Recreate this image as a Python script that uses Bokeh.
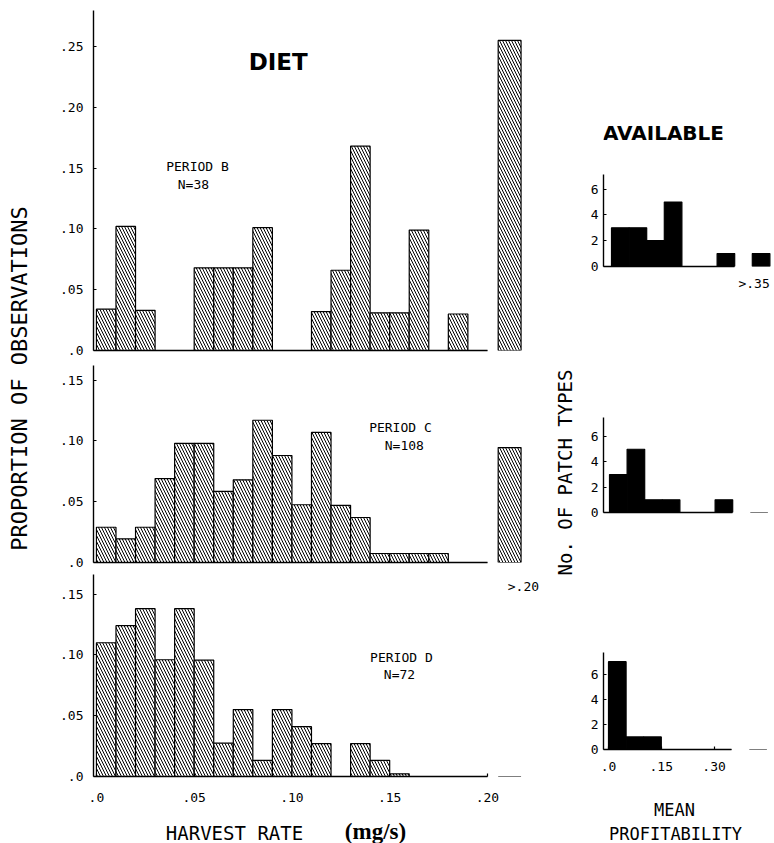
import math
from bokeh.plotting import figure
from bokeh.models import Label, FixedTicker, Range1d
from bokeh.layouts import row, column
from bokeh.embed import file_html
from bokeh.resources import INLINE

# ---------------- data ----------------
# harvest-rate bins (left edges, width 0.01); the ">.20" bin is drawn separately
diet_bin_left = [0.00, 0.01, 0.02, 0.03, 0.04, 0.05, 0.06, 0.07, 0.08, 0.09,
                 0.10, 0.11, 0.12, 0.13, 0.14, 0.15, 0.16, 0.17, 0.18, 0.19]
diet_period_B = [0.034, 0.102, 0.033, 0.0, 0.0, 0.068, 0.068, 0.068, 0.101, 0.0,
                 0.0, 0.032, 0.066, 0.168, 0.031, 0.031, 0.099, 0.0, 0.030, 0.0]
diet_period_B_over = 0.255
diet_period_C = [0.029, 0.0195, 0.029, 0.069, 0.098, 0.098, 0.0585, 0.068, 0.117, 0.088,
                 0.0475, 0.107, 0.047, 0.037, 0.0074, 0.0074, 0.0074, 0.0074, 0.0, 0.0]
diet_period_C_over = 0.0945
diet_period_D = [0.110, 0.124, 0.138, 0.096, 0.138, 0.0957, 0.0274, 0.055, 0.0133, 0.055,
                 0.041, 0.027, 0.0, 0.027, 0.0133, 0.0022, 0.0, 0.0, 0.0, 0.0]
diet_period_D_over = 0.0

# mean-profitability bins (left edges, width 0.05); the ">.35" bin is drawn separately
avail_bin_left = [0.00, 0.05, 0.10, 0.15, 0.20, 0.25, 0.30]
avail_period_B = [3, 3, 2, 5, 0, 0, 1]
avail_period_B_over = 1
avail_period_C = [3, 5, 1, 1, 0, 0, 1]
avail_period_C_over = 0
avail_period_D = [7, 1, 1, 0, 0, 0, 0]
avail_period_D_over = 0

diet_y_ticks_B = [0.0, 0.05, 0.10, 0.15, 0.20, 0.25]
diet_y_labels_B = [".0", ".05", ".10", ".15", ".20", ".25"]
diet_y_ticks_CD = [0.0, 0.05, 0.10, 0.15]
diet_y_labels_CD = [".0", ".05", ".10", ".15"]
diet_x_ticks = [0.0, 0.05, 0.10, 0.15, 0.20]
diet_x_labels = [".0", ".05", ".10", ".15", ".20"]
avail_y_ticks = [0, 2, 4, 6]
avail_y_labels = ["0", "2", "4", "6"]
avail_x_ticks = [0.0, 0.15, 0.30]
avail_x_labels = [".0", ".15", ".30"]
avail_over_tick = [0.405]
avail_over_label = [">.35"]

# ---------------- styling / geometry ----------------
MONO = "DejaVu Sans Mono"
DIET_W = 0.01
DIET_OVER = (0.2055, 0.2172)
AVAIL_W = 0.05
AVAIL_OVER = (0.40, 0.45)
PX_X_DIET = 1955.0
PX_Y_DIET = 1216.0
PX_X_AV = 352.0
HATCH = dict(hatch_pattern="\\", hatch_color="black", hatch_scale=6, hatch_weight=1.0)


def base_fig(width, height, xr, yr, left=0, top=0, bottom=0, right=0):
    p = figure(width=width, height=height, x_range=xr, y_range=yr,
               output_backend="svg", toolbar_location=None,
               min_border_left=left, min_border_right=right,
               min_border_top=top, min_border_bottom=bottom)
    p.outline_line_color = None
    p.xgrid.visible = False
    p.ygrid.visible = False
    p.background_fill_color = "white"
    p.border_fill_color = "white"
    return p


def text_fig(width, height, x0, x1, left=0):
    p = base_fig(width, height, Range1d(x0, x1), Range1d(0, height), left=left)
    p.xaxis.visible = False
    p.yaxis.visible = False
    return p


def style_axis(ax, ticks, labels, standoff, size="13px", tick_in=3):
    ax.ticker = FixedTicker(ticks=ticks)
    ax.major_label_overrides = {t: l for t, l in zip(ticks, labels)}
    ax.axis_line_color = "black"
    ax.axis_line_width = 1.4
    ax.major_tick_in = tick_in
    ax.major_tick_out = 0
    ax.major_tick_line_color = "black"
    ax.major_tick_line_width = 1.2
    ax.minor_tick_line_color = None
    ax.major_label_text_font = MONO
    ax.major_label_text_font_size = size
    ax.major_label_text_color = "black"
    ax.major_label_standoff = standoff


def txt(p, x, y, text, size="13px", font=MONO, style="normal", angle=0.0, align="center"):
    p.add_layout(Label(x=x, y=y, text=text, text_font=font, text_font_size=size,
                       text_font_style=style, text_color="black", angle=angle,
                       text_align=align, text_baseline="middle"))


DIET_X0 = -0.0015
DIET_LEFT = 48
AV_LEFT = 20


def diet_panel(values, over, height, top, bottom, frame_h, yticks, ylabels, show_x):
    frame_w = 452
    p = base_fig(500, height, Range1d(DIET_X0, DIET_X0 + frame_w / PX_X_DIET),
                 Range1d(0, frame_h / PX_Y_DIET), DIET_LEFT, top, bottom)
    left = diet_bin_left
    right = [l + DIET_W for l in left]
    p.quad(left=left, right=right, bottom=[0] * len(left), top=values,
           fill_color="white", line_color="black", line_width=1.2, **HATCH)
    p.quad(left=[DIET_OVER[0]], right=[DIET_OVER[1]], bottom=[0], top=[over],
           fill_color="white", line_color="black", line_width=1.2, **HATCH)
    style_axis(p.yaxis[0], yticks, ylabels, 10)
    if show_x:
        style_axis(p.xaxis[0], diet_x_ticks, diet_x_labels, 16)
    else:
        style_axis(p.xaxis[0], [], [], 0)
    p.xaxis.bounds = (DIET_X0, 0.20)
    return p


def avail_panel(values, over, height, top, bottom, x0px, px_y, frame_h,
                xticks, xlabels, xstandoff, xtick_in):
    frame_w = 171
    x0 = -x0px / PX_X_AV
    p = base_fig(191, height, Range1d(x0, x0 + frame_w / PX_X_AV),
                 Range1d(0, frame_h / px_y), AV_LEFT, top, bottom)
    left = avail_bin_left
    right = [l + AVAIL_W for l in left]
    p.quad(left=left, right=right, bottom=[0] * len(left), top=values,
           fill_color="black", line_color="black", line_width=1.2)
    p.quad(left=[AVAIL_OVER[0]], right=[AVAIL_OVER[1]], bottom=[0], top=[over],
           fill_color="black", line_color="black", line_width=1.2)
    style_axis(p.yaxis[0], avail_y_ticks, avail_y_labels, 5)
    style_axis(p.xaxis[0], xticks, xlabels, xstandoff, tick_in=xtick_in)
    p.xaxis.bounds = (x0, 0.35)
    return p


# ---------------- title strip (left) ----------------
pT = text_fig(45, 843, 0, 45)
txt(pT, 18.5, 843 - 378, "PROPORTION OF OBSERVATIONS", size="22px", angle=math.pi / 2)

# ---------------- left column (DIET) ----------------
pB = diet_panel(diet_period_B, diet_period_B_over, 365, 10, 15, 340,
                diet_y_ticks_B, diet_y_labels_B, False)
txt(pB, 0.093, 0.237, "DIET", size="23px", font="DejaVu Sans", style="bold")
txt(pB, 0.0517, 0.151, "PERIOD B")
txt(pB, 0.0496, 0.1365, "N=38")

pC = diet_panel(diet_period_C, diet_period_C_over, 209, 0, 12, 197,
                diet_y_ticks_CD, diet_y_labels_CD, False)
txt(pC, 0.1555, 0.111, "PERIOD C")
txt(pC, 0.1575, 0.096, "N=108")

pD = diet_panel(diet_period_D, diet_period_D_over, 241, 0, 39, 202,
                diet_y_ticks_CD, diet_y_labels_CD, True)
txt(pD, 0.156, 0.098, "PERIOD D")
txt(pD, 0.155, 0.084, "N=72")
txt(pD, 0.2184, 0.156, ">.20")

# axis title row under the diet panels (frame aligned with panels: x from 93 to 545 px)
pX = text_fig(500, 28, 93, 545, left=DIET_LEFT)
txt(pX, 234, 11, "HARVEST RATE", size="19px")
txt(pX, 375, 12, "(mg/s)", size="23px", font="Liberation Serif", style="bold")

# ---------------- right strip ----------------
pS = text_fig(38, 843, 545, 583)
txt(pS, 564, 843 - 472, "No. OF PATCH TYPES", size="19px", angle=math.pi / 2)

# ---------------- right column (AVAILABLE) ----------------
pA = text_fig(191, 150, 603, 774, left=AV_LEFT)
txt(pA, 663, 150 - 132, "AVAILABLE", size="20px", font="DejaVu Sans", style="bold")

rB = avail_panel(avail_period_B, avail_period_B_over, 150, 24, 34, 8, 12.9, 92,
                 avail_over_tick, avail_over_label, 9, 0)
rC = avail_panel(avail_period_C, avail_period_C_over, 310, 117, 98, 6, 12.65, 95,
                 [], [], 0, 0)
rD = avail_panel(avail_period_D, avail_period_D_over, 175, 42, 36, 5, 12.55, 97,
                 avail_x_ticks, avail_x_labels, 12, 3)

pM = text_fig(191, 58, 603, 774, left=AV_LEFT)
txt(pM, 674, 58 - (809 - 785), "MEAN", size="17px")
txt(pM, 675, 58 - (833 - 785), "PROFITABILITY", size="17px")

layout = row(pT, column(pB, pC, pD, pX), pS, column(pA, rB, rC, rD, pM))

open("out.html", "w").write(file_html(layout, INLINE))
